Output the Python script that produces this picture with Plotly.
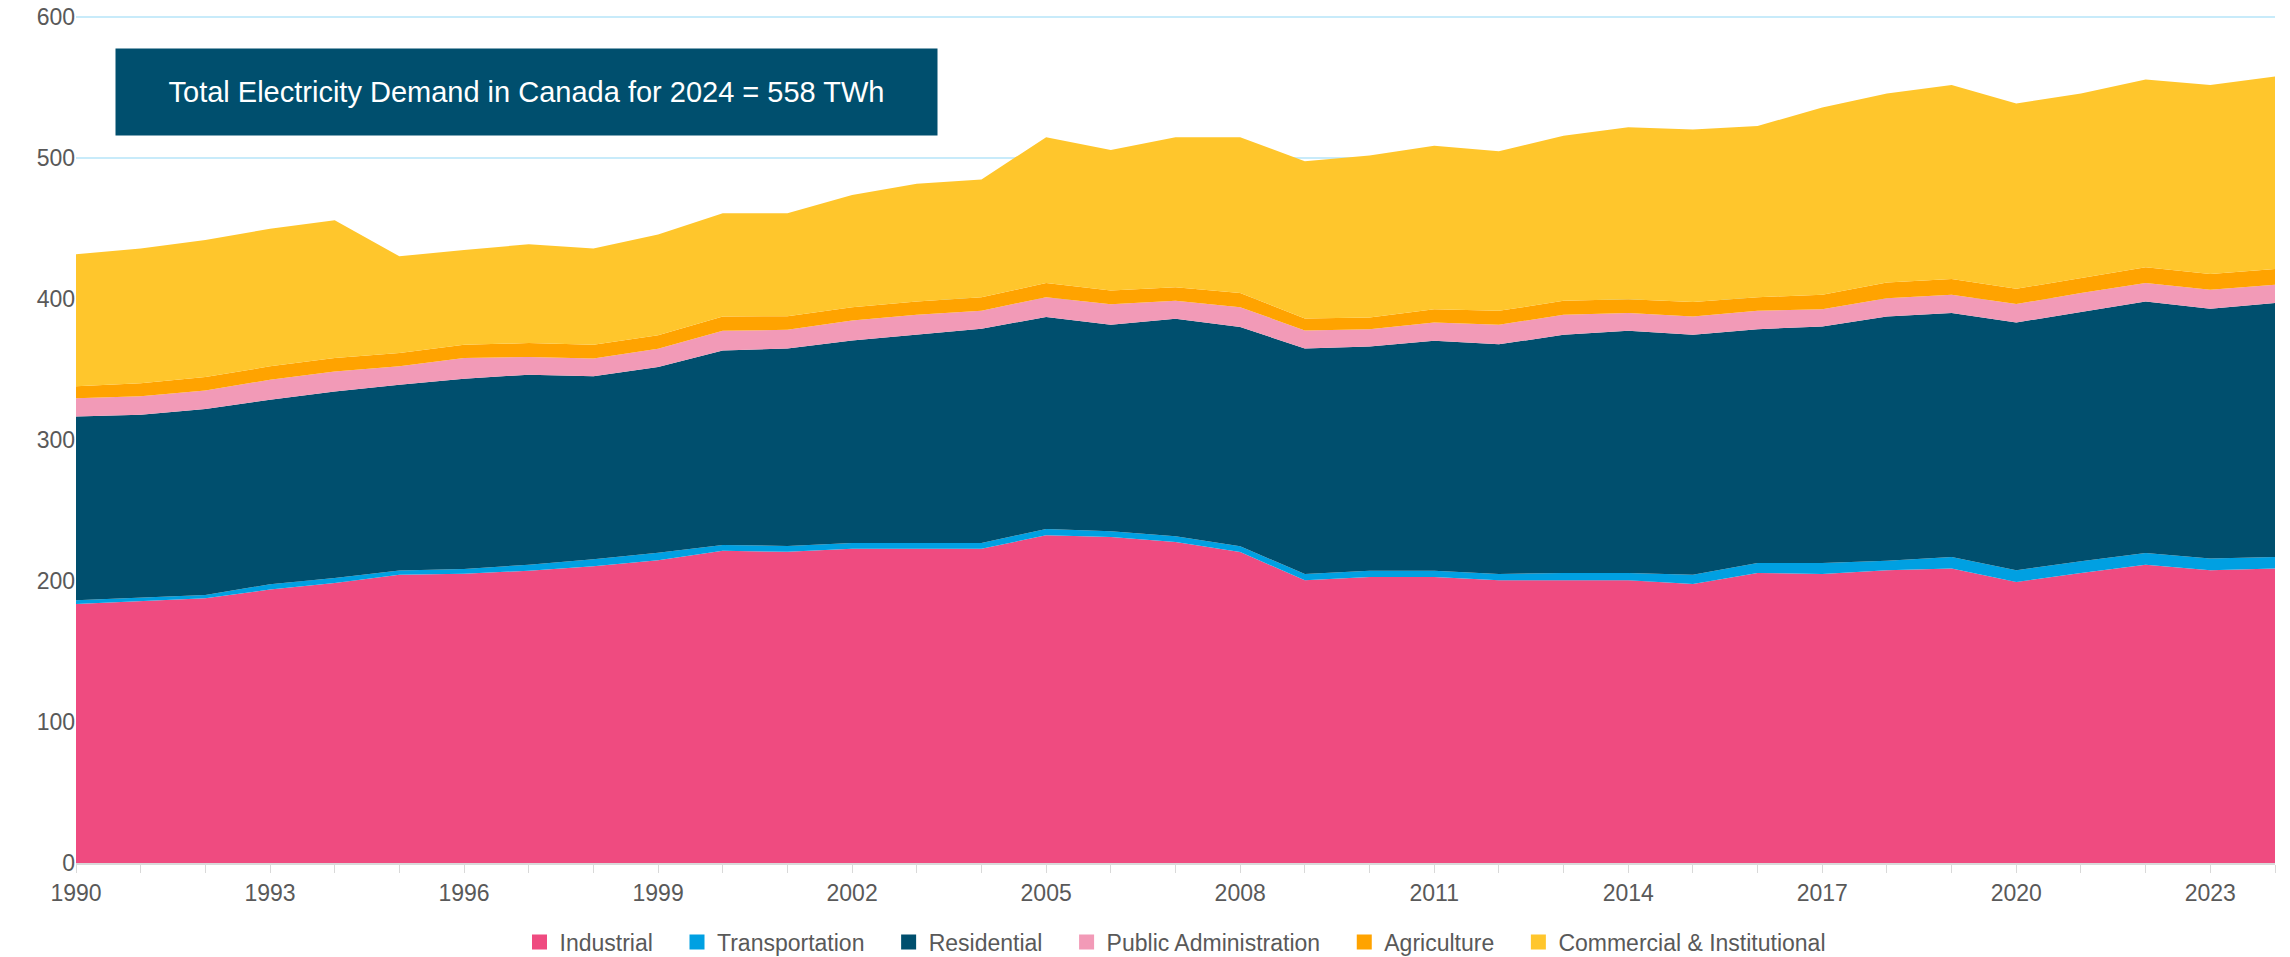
import plotly.graph_objects as go

# years and demand by sector (TWh)
years = list(range(1990, 2025))

industrial = [183.8, 185.7, 187.8, 194.0, 198.7, 204.6, 205.3, 207.4, 210.5, 214.8,
              221.6, 220.8, 223.0, 223.0, 223.0, 232.5, 231.3, 227.8, 220.7, 200.6,
              202.9, 202.9, 200.6, 200.6, 200.6, 198.0, 205.8, 205.1, 207.7, 208.9,
              199.4, 205.8, 211.7, 207.7, 208.9]
transportation = [2.6, 2.8, 2.4, 3.8, 3.5, 2.9, 3.3, 4.3, 5.0, 5.3,
                  4.0, 4.2, 4.1, 4.1, 4.1, 4.5, 4.1, 4.0, 4.0, 4.5,
                  4.5, 4.5, 4.5, 5.2, 5.2, 6.6, 7.1, 7.8, 6.8, 8.2,
                  8.3, 8.3, 8.3, 8.3, 8.2]
residential = [130.5, 129.6, 131.9, 130.9, 132.4, 131.9, 135.0, 134.8, 129.8, 131.8,
               138.1, 140.1, 143.7, 147.7, 152.0, 150.4, 146.5, 154.4, 155.6, 160.0,
               159.1, 163.2, 162.9, 169.0, 171.9, 170.2, 165.9, 167.8, 173.3, 173.1,
               175.9, 176.8, 178.5, 177.3, 180.2]
public_admin = [12.8, 13.0, 13.2, 14.2, 14.2, 13.0, 14.7, 12.5, 12.7, 13.0,
                14.0, 13.2, 14.2, 14.2, 12.7, 14.1, 14.6, 12.7, 14.1, 12.8,
                12.3, 13.0, 13.9, 14.2, 12.5, 13.0, 13.0, 12.3, 13.0, 13.0,
                13.0, 13.5, 13.0, 13.4, 13.0]
agriculture = [8.5, 9.4, 9.5, 9.5, 9.5, 9.4, 9.4, 9.9, 9.7, 9.5,
               10.1, 9.7, 9.4, 9.5, 9.7, 10.0, 9.8, 9.7, 10.0, 8.5,
               8.3, 9.4, 9.9, 9.9, 9.9, 10.2, 9.7, 10.2, 11.1, 11.1,
               10.8, 10.6, 11.3, 11.2, 11.1]
commercial = [93.8, 95.5, 97.2, 97.6, 97.7, 68.7, 67.3, 70.1, 68.3, 71.6,
              73.2, 73.0, 79.6, 83.5, 83.5, 103.5, 99.7, 106.4, 110.6, 111.6,
              114.9, 116.0, 113.2, 117.1, 121.9, 122.5, 121.5, 132.8, 134.1, 137.7,
              131.6, 131.0, 133.2, 134.1, 136.6]

series = [
    ("Industrial", industrial, "#ef4b80"),
    ("Transportation", transportation, "#00a0e2"),
    ("Residential", residential, "#004f6e"),
    ("Public Administration", public_admin, "#f29ab7"),
    ("Agriculture", agriculture, "#ffa300"),
    ("Commercial & Institutional", commercial, "#ffc62c"),
]

font_family = "Liberation Sans, Arial, sans-serif"
grey = "#595959"
pad = "\u00a0" * 3  # extra room between legend entries

fig = go.Figure()
for name, vals, color in series:
    fig.add_trace(go.Scatter(x=years, y=vals, name=name, mode="lines",
                             stackgroup="one", line=dict(width=0, color=color),
                             fillcolor=color, showlegend=False))
# legend entries drawn as small squares like the original
for i, (name, vals, color) in enumerate(series):
    label = name if i == len(series) - 1 else name + pad
    fig.add_trace(go.Scatter(x=[None], y=[None], name=label, mode="markers",
                             marker=dict(symbol="square", size=15, color=color),
                             hoverinfo="skip"))

fig.update_layout(
    width=2290, height=957,
    margin=dict(l=76, r=15, t=16, b=94, autoexpand=False),
    plot_bgcolor="white", paper_bgcolor="white",
    font=dict(family=font_family, size=23, color=grey),
    showlegend=True,
    legend=dict(orientation="h", x=0.5, xanchor="center", y=-0.0933, yanchor="middle",
                traceorder="normal", font=dict(size=23, color=grey)),
    xaxis=dict(range=[1990, 2024], tick0=1990, dtick=3, ticks="outside", ticklen=8,
               tickcolor="#d9d9d9", showgrid=False, showline=True, linecolor="#d9d9d9",
               linewidth=2, zeroline=False,
               minor=dict(dtick=1, ticks="outside", ticklen=8, tickcolor="#d9d9d9"),
               tickfont=dict(size=23, color=grey)),
    yaxis=dict(range=[0, 601], dtick=100, showgrid=True, gridcolor="#c8ebfa",
               gridwidth=2, zeroline=False, showline=False, ticks="",
               tickfont=dict(size=23, color=grey)),
    annotations=[dict(
        text="Total Electricity Demand in Canada for 2024 = 558 TWh",
        xref="paper", yref="paper", x=0.0177, y=0.9622, xanchor="left", yanchor="top",
        width=821, height=86, bgcolor="#004f6e", borderpad=0, showarrow=False,
        align="center", valign="middle",
        font=dict(size=29, color="white", family=font_family),
    )],
)

# drop the browser's default body margin so the figure fills the window
fig.write_html("out.html", config={"displayModeBar": False},
               post_script="document.body.style.margin = '0';")
